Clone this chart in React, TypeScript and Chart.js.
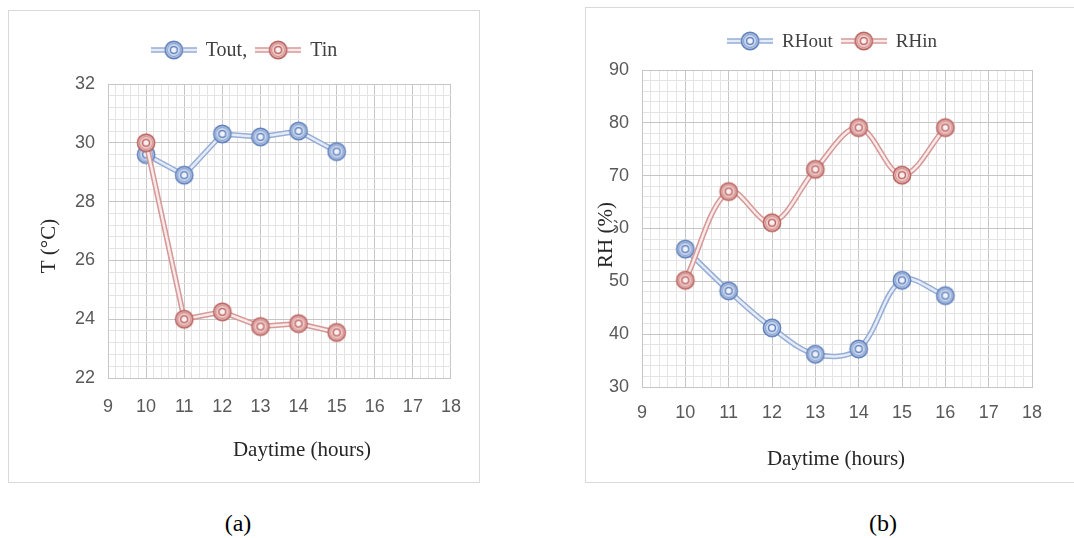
import React, { useEffect, useRef } from 'react';
import { Chart, registerables } from 'chart.js';

Chart.register(...registerables);

// ---------------- data ----------------
const hoursA = [10, 11, 12, 13, 14, 15];
const toutA = [29.6, 28.9, 30.3, 30.2, 30.4, 29.7];
const tinA = [30.0, 24.0, 24.25, 23.75, 23.85, 23.55];

const hoursB = [10, 11, 12, 13, 14, 15, 16];
const rhOutB = [56.1, 48.2, 41.2, 36.2, 37.2, 50.2, 47.3];
const rhInB = [50.2, 67.0, 61.1, 71.2, 79.1, 70.1, 79.1];

const seriesNamesA = ['Tout,', 'Tin'];
const seriesNamesB = ['RHout', 'RHin'];

const xRange = [9, 18];
const xSteps = [1, 0.2]; // major, minor
const yRangeA = [22, 32];
const yStepsA = [2, 0.4];
const yRangeB = [30, 90];
const yStepsB = [10, 2];

const axisTitlesA = ['Daytime (hours)', 'T (°C)'];
const axisTitlesB = ['Daytime (hours)', 'RH (%)'];
const captions = ['(a)', '(b)'];

// ---------------- styles ----------------
const SANS = '"Liberation Sans", Arial, sans-serif';
const SERIF = '"Liberation Serif", "Times New Roman", serif';
const TICK_COLOR = '#595959';
const MAJOR = '#c6c6c6';
const MINOR = '#e4e4e4';

const BLUE = { dark: '#5f80bb', mid: '#8fa7d2', fill: '#c9d6ee', core: '#eef2fa', lineEdge: '#97aed6', lineCore: '#e6ecf7' };
const RED = { dark: '#b9625f', mid: '#d49593', fill: '#efc9c8', core: '#fbf0f0', lineEdge: '#d69a98', lineCore: '#f9ebeb' };

function makeMarker(col: any, w: number) {
  const c = document.createElement('canvas');
  c.width = w;
  c.height = 22;
  const ctx = c.getContext('2d')!;
  const cx = w / 2, cy = 11;
  if (w > 22) {
    ctx.lineCap = 'butt';
    ctx.strokeStyle = col.lineEdge;
    ctx.lineWidth = 5.5;
    ctx.beginPath(); ctx.moveTo(0, cy); ctx.lineTo(w, cy); ctx.stroke();
    ctx.strokeStyle = col.lineCore;
    ctx.lineWidth = 2.4;
    ctx.beginPath(); ctx.moveTo(0, cy); ctx.lineTo(w, cy); ctx.stroke();
  }
  ctx.beginPath(); ctx.arc(cx, cy, 8.6, 0, Math.PI * 2);
  ctx.fillStyle = col.fill; ctx.fill();
  ctx.lineWidth = 1.6; ctx.strokeStyle = col.dark; ctx.stroke();
  ctx.beginPath(); ctx.arc(cx, cy, 6.6, 0, Math.PI * 2);
  ctx.lineWidth = 1.1; ctx.strokeStyle = col.mid; ctx.stroke();
  ctx.beginPath(); ctx.arc(cx, cy, 3.4, 0, Math.PI * 2);
  ctx.fillStyle = col.core; ctx.fill();
  ctx.lineWidth = 1.3; ctx.strokeStyle = col.dark; ctx.stroke();
  return c;
}

const isMult = (v: number, step: number) => {
  if (typeof v !== 'number') return false;
  const r = v / step;
  return Math.abs(r - Math.round(r)) < 1e-6;
};

type Spec = {
  xs: number[];
  s1: number[];
  s2: number[];
  names: string[];
  titles: string[];
  yRange: number[];
  ySteps: number[];
  tension: number;
  yWidth: number;
  xHeight: number;
  padTop: number;
  padRight: number;
  yTickPad: number;
  xTickPad: number;
  legendX: number;
  legendY: number;
  legendSize: number;
  yTitleX: number;
  yTitleY: number;
  yTitleBg: boolean;
  xTitleX: number;
  xTitleY: number;
  titleSize: number;
};

function makeDecor(spec: Spec, legendImgs: HTMLCanvasElement[]) {
  return {
    id: 'decor',
    afterDraw(chart: any) {
      const ctx = chart.ctx as CanvasRenderingContext2D;
      ctx.save();
      // legend
      ctx.font = `${spec.legendSize}px ${SERIF}`;
      const widths = spec.names.map((n) => 46 + 9 + ctx.measureText(n).width);
      const total = widths.reduce((a, b) => a + b, 0) + 8 * (spec.names.length - 1);
      let x = spec.legendX - total / 2;
      spec.names.forEach((n, i) => {
        ctx.drawImage(legendImgs[i], x, spec.legendY - 11);
        ctx.fillStyle = '#404040';
        ctx.textAlign = 'left';
        ctx.textBaseline = 'middle';
        ctx.fillText(n, x + 55, spec.legendY + 1);
        x += widths[i] + 8;
      });
      // x title
      ctx.font = `${spec.titleSize}px ${SERIF}`;
      ctx.fillStyle = '#262626';
      ctx.textAlign = 'center';
      ctx.textBaseline = 'middle';
      ctx.fillText(spec.titles[0], spec.xTitleX, spec.xTitleY);
      // y title
      ctx.translate(spec.yTitleX, spec.yTitleY);
      ctx.rotate(-Math.PI / 2);
      if (spec.yTitleBg) {
        const w = ctx.measureText(spec.titles[1]).width;
        ctx.fillStyle = '#ffffff';
        ctx.fillRect(-w / 2 - 1, -spec.titleSize * 0.42, w + 2, spec.titleSize * 0.84);
        ctx.fillStyle = '#262626';
      }
      ctx.fillText(spec.titles[1], 0, 1);
      ctx.restore();
    },
  };
}

function ChartBox({ spec, width, height }: { spec: Spec; width: number; height: number }) {
  const ref = useRef<HTMLCanvasElement | null>(null);
  useEffect(() => {
    if (!ref.current) return;
    const mBlue = makeMarker(BLUE, 22);
    const mRed = makeMarker(RED, 22);
    const lBlue = makeMarker(BLUE, 46);
    const lRed = makeMarker(RED, 46);
    const pts = (ys: number[]) => spec.xs.map((x, i) => ({ x, y: ys[i] }));
    const pair = (label: string, ys: number[], col: any, img: HTMLCanvasElement, order: number) => [
      { label: label + ' band', data: pts(ys), borderColor: col.lineEdge, borderWidth: 5.5, pointRadius: 0, order: order + 1, tension: spec.tension, fill: false },
      { label, data: pts(ys), borderColor: col.lineCore, borderWidth: 2.4, pointStyle: img, pointRadius: 9, order, tension: spec.tension, fill: false },
    ];
    const [yMajor, yMinor] = spec.ySteps;
    const chart = new Chart(ref.current, {
      type: 'line',
      data: {
        datasets: [
          ...pair(spec.names[0], spec.s1, BLUE, mBlue, 3),
          ...pair(spec.names[1], spec.s2, RED, mRed, 1),
        ] as any,
      },
      options: {
        responsive: false,
        animation: false,
        events: [],
        layout: { padding: { top: spec.padTop, right: spec.padRight, left: 0, bottom: 0 } },
        plugins: { legend: { display: false }, tooltip: { enabled: false }, title: { display: false } },
        scales: {
          x: {
            type: 'linear',
            min: xRange[0],
            max: xRange[1],
            afterFit: (s: any) => { s.height = spec.xHeight; },
            ticks: {
              stepSize: xSteps[1],
              autoSkip: false,
              maxRotation: 0,
              minRotation: 0,
              padding: spec.xTickPad,
              color: TICK_COLOR,
              font: { family: SANS, size: 18 },
              callback: (v: any) => (isMult(Number(v), xSteps[0]) ? String(Math.round(Number(v))) : ''),
            },
            grid: {
              drawTicks: false,
              color: (c: any) => (c.tick && isMult(c.tick.value, xSteps[0]) ? MAJOR : MINOR),
            },
            border: { color: MAJOR },
          },
          y: {
            type: 'linear',
            min: spec.yRange[0],
            max: spec.yRange[1],
            afterFit: (s: any) => { s.width = spec.yWidth; },
            ticks: {
              stepSize: yMinor,
              autoSkip: false,
              padding: spec.yTickPad,
              color: TICK_COLOR,
              font: { family: SANS, size: 18 },
              callback: (v: any) => (isMult(Number(v), yMajor) ? String(Math.round(Number(v))) : ''),
            },
            grid: {
              drawTicks: false,
              color: (c: any) => (c.tick && isMult(c.tick.value, yMajor) ? MAJOR : MINOR),
            },
            border: { color: MAJOR },
          },
        },
      } as any,
      plugins: [makeDecor(spec, [lBlue, lRed]) as any],
    });
    return () => chart.destroy();
  }, []);
  return <canvas ref={ref} width={width} height={height} style={{ display: 'block', width, height }} />;
}

const specA: Spec = {
  xs: hoursA, s1: toutA, s2: tinA, names: seriesNamesA, titles: axisTitlesA,
  yRange: yRangeA, ySteps: yStepsA, tension: 0,
  yWidth: 99, xHeight: 104, padTop: 73, padRight: 25, yTickPad: 13, xTickPad: 18,
  legendX: 235, legendY: 39, legendSize: 20,
  yTitleX: 39, yTitleY: 235, yTitleBg: false,
  xTitleX: 293, xTitleY: 439, titleSize: 21,
};

const specB: Spec = {
  xs: hoursB, s1: rhOutB, s2: rhInB, names: seriesNamesB, titles: axisTitlesB,
  yRange: yRangeB, ySteps: yStepsB, tension: 0.35,
  yWidth: 56, xHeight: 95, padTop: 62, padRight: 42, yTickPad: 13, xTickPad: 15,
  legendX: 246, legendY: 33, legendSize: 19,
  yTitleX: 19, yTitleY: 227, yTitleBg: true,
  xTitleX: 250, xTitleY: 451, titleSize: 21,
};

export default function App() {
  return (
    <div style={{ position: 'absolute', left: 0, top: 0, width: 1074, height: 538, background: '#fff', overflow: 'hidden' }}>
      <div style={{ position: 'absolute', left: 8, top: 10, width: 470, height: 471, border: '1px solid #d9d9d9' }}>
        <ChartBox spec={specA} width={470} height={471} />
      </div>
      <div style={{ position: 'absolute', left: 585, top: 7, width: 489, height: 474, borderLeft: '1px solid #d9d9d9', borderTop: '1px solid #d9d9d9', borderBottom: '1px solid #d9d9d9' }}>
        <ChartBox spec={specB} width={488} height={474} />
      </div>
      <div style={{ position: 'absolute', left: 188, top: 508, width: 100, textAlign: 'center', font: `24px ${SERIF}`, lineHeight: '30px', color: '#000' }}>{captions[0]}</div>
      <div style={{ position: 'absolute', left: 833, top: 508, width: 100, textAlign: 'center', font: `24px ${SERIF}`, lineHeight: '30px', color: '#000' }}>{captions[1]}</div>
    </div>
  );
}
